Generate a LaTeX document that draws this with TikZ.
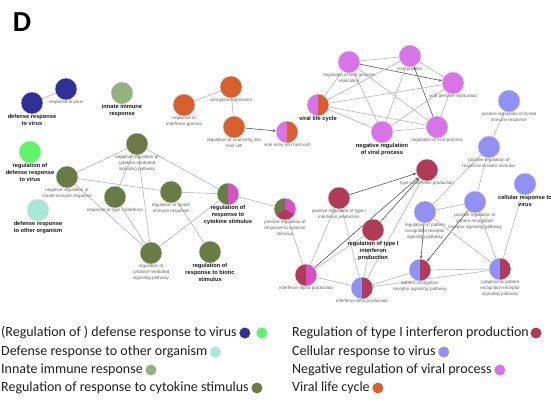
\documentclass[tikz,border=0pt]{standalone}
\usepackage{fontspec}
\setmainfont{Liberation Sans}
\newfontfamily\legfont{Carlito}
\usetikzlibrary{arrows.meta,backgrounds}
\definecolor{cDB}{HTML}{30309A}
\definecolor{cBG}{HTML}{5EF56B}
\definecolor{cTe}{HTML}{A8E8D6}
\definecolor{cLG}{HTML}{93B27F}
\definecolor{cOl}{HTML}{6A7B45}
\definecolor{cCr}{HTML}{B03A58}
\definecolor{cPe}{HTML}{9090F5}
\definecolor{cVi}{HTML}{D874E8}
\definecolor{cMg}{HTML}{D650C8}
\definecolor{cOr}{HTML}{D75F2E}
\tikzset{
  go/.style={circle, minimum size=22pt, inner sep=0pt, draw=black!12, line width=0.4pt},
  halfpie/.style 2 args={go, path picture={
      \fill[#1] (path picture bounding box.north west) rectangle (path picture bounding box.south);
      \fill[#2] (path picture bounding box.north) rectangle (path picture bounding box.south east);}},
  sl/.style={font=\fontsize{4.5}{6}\selectfont, text=black!62, align=center, inner sep=0.3pt, label distance=0pt},
  bl/.style={font=\fontsize{5.7}{7}\selectfont\bfseries, text=black!90, align=center, inner sep=0.3pt, label distance=0pt},
  edge/.style={draw=black!28, line width=0.6pt},
  arr/.style={draw=black!65, line width=0.6pt, -{Stealth[length=3.2pt,width=2.6pt]}},
  leg/.style={font=\legfont\fontsize{14}{16}\selectfont, text=black!88, inner sep=0pt, anchor=west},
  dot/.style={circle, minimum size=11pt, inner sep=0pt}
}
\begin{document}
\begin{tikzpicture}[x=1pt,y=-1pt]
\useasboundingbox (0,0) rectangle (551,400);
\node[font=\legfont\bfseries\fontsize{29}{30}\selectfont, inner sep=0pt] (title) at (22,22) {D};

% blue / green group
\node[go, fill=cDB, label={[bl]below:{defense response\\to virus}}] (dr) at (32,103) {};
\node[go, fill=cDB, label={[sl]below:{response to virus}}] (rv) at (66,89) {};
\node[go, fill=cLG, label={[bl]below:{innate immune\\response}}] (iir) at (122,93) {};
\node[go, fill=cBG, label={[bl]below:{regulation of\\defense response\\to virus}}] (rdr) at (30,152) {};
\node[go, fill=cTe, label={[bl]below:{defense response\\to other organism}}] (droo) at (38,210) {};

% olive group
\node[go, fill=cOl, label={[sl]below:{negative regulation of\\innate immune response}}] (nrii) at (67,177) {};
\node[go, fill=cOl, label={[sl]below:{response to type I interferon}}] (rti) at (115,197) {};
\node[go, fill=cOl, label={[sl]below:{negative regulation of\\cytokine-mediated\\signaling pathway}}] (nrc) at (137,144) {};
\node[go, fill=cOl, label={[sl]below:{regulation of innate\\immune response}}] (riir) at (171,192) {};
\node[halfpie={cOl}{cMg}, label={[bl]below:{regulation of\\response to\\cytokine stimulus}}] (rrcs) at (228,194) {};
\node[go, path picture={
    \fill[cOl] (path picture bounding box.center) -- ++(90:12pt) arc[start angle=90, end angle=210, radius=12pt] -- cycle;
    \fill[cMg] (path picture bounding box.center) -- ++(-30:12pt) arc[start angle=-30, end angle=90, radius=12pt] -- cycle;
    \fill[cCr] (path picture bounding box.center) -- ++(210:12pt) arc[start angle=210, end angle=330, radius=12pt] -- cycle;},
  label={[sl]below:{positive regulation of\\response to cytokine\\stimulus}}] (prcs) at (285,209) {};
\node[go, fill=cOl, label={[sl]below:{regulation of\\cytokine-mediated\\signaling pathway}}] (rcmsp) at (151,253) {};
\node[go, fill=cOl, label={[bl]below:{regulation of\\response to biotic\\stimulus}}] (rrbs) at (210,252) {};

% orange group
\node[go, fill=cOr, label={[sl]below:{response to\\interferon-gamma}}] (rig) at (184,105) {};
\node[go, fill=cOr, label={[sl]below:{viral gene expression}}] (vge) at (231,87) {};
\node[go, fill=cOr, label={[sl]below:{regulation of viral entry into\\host cell}}] (rve) at (234,127) {};
\node[halfpie={cVi}{cOr}, label={[sl]below:{viral entry into host cell}}] (vehc) at (287,132) {};

% violet group
\node[halfpie={cVi}{cOr}, label={[bl]below:{viral life cycle}}] (vlc) at (318,105) {};
\node[go, fill=cVi, label={[sl]below:{regulation of viral genome\\replication}}] (rvgr) at (349,62) {};
\node[go, fill=cVi, label={[sl]below:{viral process}}] (vp) at (410,56) {};
\node[go, fill=cVi, label={[sl]below:{viral genome replication}}] (vgr) at (453,83) {};
\node[go, fill=cVi, label={[sl]below:{regulation of viral process}}] (rvp) at (437,127) {};
\node[go, fill=cVi, label={[bl]below:{negative regulation\\of viral process}}] (nrvp) at (382,132) {};

% periwinkle / crimson group
\node[go, fill=cPe, label={[sl]below:{positive regulation of innate\\immune response}}] (prii) at (509,101) {};
\node[go, fill=cPe, label={[sl]below:{positive regulation of\\response to biotic stimulus}}] (prrbs) at (489,147) {};
\node[go, fill=cPe, label={[bl]below:{cellular response to\\virus}}] (crv) at (525,184) {};
\node[go, fill=cCr, label={[sl]below:{type I interferon production}}] (t1p) at (427,170) {};
\node[go, fill=cCr, label={[sl]below:{positive regulation of type I\\interferon production}}] (prt1) at (339,198) {};
\node[go, fill=cCr, label={[bl]below:{regulation of type I\\interferon\\production}}] (rt1) at (373,230) {};
\node[halfpie={cCr}{cMg}, label={[sl]below:{interferon-alpha production}}] (iap) at (306,275) {};
\node[halfpie={cPe}{cCr}, label={[sl]below:{interferon-beta production}}] (ibp) at (362,288) {};
\node[go, fill=cPe, label={[sl]below:{regulation of pattern\\recognition receptor\\signaling pathway}}] (rprr) at (425,212) {};
\node[halfpie={cPe}{cCr}, label={[sl]below:{pattern recognition\\receptor signaling pathway}}] (prrsp) at (420,270) {};
\node[go, fill=cPe, label={[sl]below:{positive regulation of\\pattern recognition\\receptor signaling pathway}}] (prprr) at (475,202) {};
\node[halfpie={cPe}{cCr}, label={[sl]below:{cytoplasmic pattern\\recognition receptor\\signaling pathway}}] (cprr) at (500,269) {};

\begin{scope}[on background layer]
  \fill[white] (0,0) rectangle (551,400);
  \draw[edge] (dr) -- (rv);
  % olive
  \draw[edge] (nrc) -- (nrii);
  \draw[edge] (nrc) -- (rti);
  \draw[edge] (nrc) -- (rcmsp);
  \draw[edge] (nrc) -- (rrcs);
  \draw[edge] (nrii) -- (riir);
  \draw[edge] (riir) -- (rrcs);
  \draw[edge] (nrii) -- (rcmsp);
  \draw[edge] (rti) -- (rcmsp);
  \draw[edge] (riir) -- (rrbs);
  \draw[edge] (rcmsp) -- (rrcs);
  \draw[edge] (rrcs) -- (prcs);
  \draw[edge] (prcs) -- (iap);
  % orange
  \draw[edge] (rig) -- (vge);
  \draw[edge] (vge) -- (rve);
  \draw[arr] (rve) -- (vehc);
  % violet
  \draw[edge] (rvgr) -- (vp);
  \draw[arr] (rvgr) -- (vgr);
  \draw[edge] (vp) -- (vgr);
  \draw[arr] (rvp) -- (vp);
  \draw[edge] (vlc) -- (rvgr);
  \draw[edge] (vlc) -- (vp);
  \draw[edge] (vlc) -- (vgr);
  \draw[edge] (vlc) -- (rvp);
  \draw[edge] (vlc) -- (nrvp);
  \draw[edge] (rvgr) -- (nrvp);
  \draw[edge] (rvgr) -- (rvp);
  \draw[edge] (vp) -- (nrvp);
  \draw[edge] (vgr) -- (nrvp);
  \draw[edge] (nrvp) -- (rvp);
  \draw[edge] (vgr) -- (rvp);
  % right cluster
  \draw[edge] (prii) -- (prrbs);
  \draw[edge] (prrbs) -- (rprr);
  \draw[edge] (prrbs) -- (prprr);
  \draw[edge] (crv) -- (cprr);
  \draw[arr] (prt1) -- (t1p);
  \draw[arr] (rt1) -- (t1p);
  \draw[arr] (iap) -- (t1p);
  \draw[edge] (ibp) -- (t1p);
  \draw[edge] (prt1) -- (iap);
  \draw[edge] (prt1) -- (ibp);
  \draw[edge] (rt1) -- (iap);
  \draw[edge] (rt1) -- (ibp);
  \draw[edge] (iap) -- (ibp);
  \draw[edge] (ibp) -- (prrsp);
  \draw[edge] (ibp) -- (cprr);
  \draw[edge] (prrsp) -- (cprr);
  \draw[arr] (rprr) -- (prrsp);
  \draw[arr] (prprr) -- (prrsp);
  \draw[edge] (rprr) -- (prprr);
  \draw[edge] (rprr) -- (cprr);
  \draw[edge] (prprr) -- (cprr);
\end{scope}

% legend
\node[leg] (l1) at (1,333) {(Regulation of ) defense response to virus};
\node[dot, fill=cDB] (d1a) at ([xshift=8pt]l1.east) {};
\node[dot, fill=cBG] (d1b) at ([xshift=17pt]d1a.center) {};
\node[leg] (l2) at (1,352) {Defense response to other organism};
\node[dot, fill=cTe] (d2) at ([xshift=8pt]l2.east) {};
\node[leg] (l3) at (1,370) {Innate immune response};
\node[dot, fill=cLG] (d3) at ([xshift=8pt]l3.east) {};
\node[leg] (l4) at (1,388) {Regulation of response to cytokine stimulus};
\node[dot, fill=cOl] (d4) at ([xshift=8pt]l4.east) {};

\node[leg] (r1) at (292,333) {Regulation of type I interferon production};
\node[dot, fill=cCr] (e1) at ([xshift=7pt]r1.east) {};
\node[leg] (r2) at (292,352) {Cellular response to virus};
\node[dot, fill=cPe] (e2) at ([xshift=8pt]r2.east) {};
\node[leg] (r3) at (292,370) {Negative regulation of viral process};
\node[dot, fill=cVi] (e3) at ([xshift=8pt]r3.east) {};
\node[leg] (r4) at (292,388) {Viral life cycle};
\node[dot, fill=cOr] (e4) at ([xshift=8pt]r4.east) {};
\end{tikzpicture}
\end{document}
